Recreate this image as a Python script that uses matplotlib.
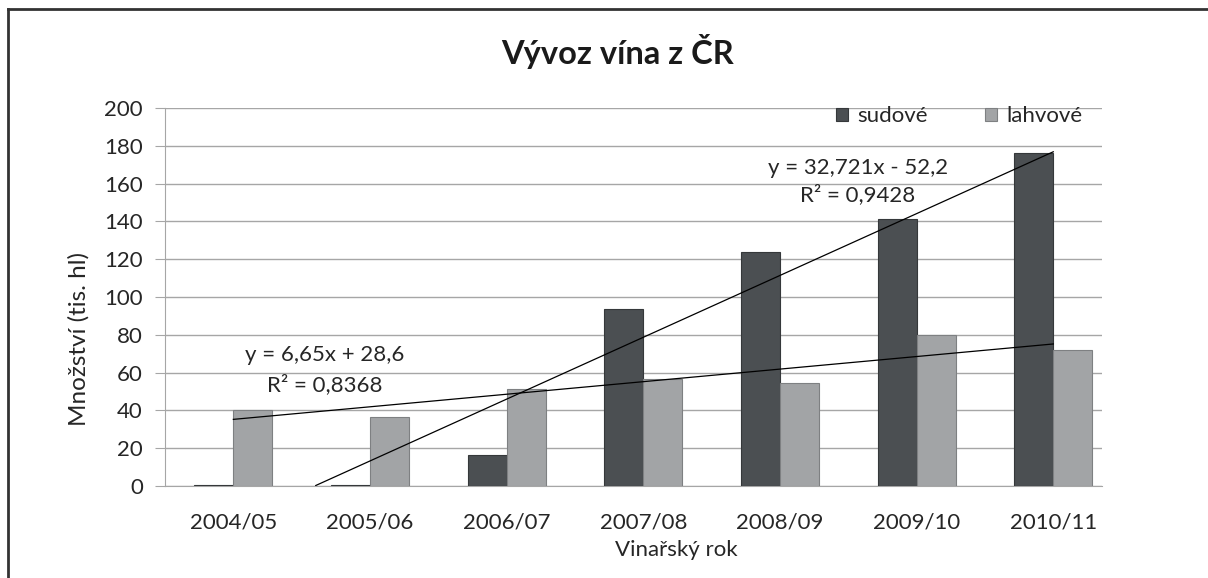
import numpy as np
import matplotlib
matplotlib.use("Agg")
import matplotlib.pyplot as plt
from matplotlib.lines import Line2D

plt.rcParams['font.family'] = ['Lato', 'DejaVu Sans']

# data (tis. hl)
roky = ['2004/05', '2005/06', '2006/07', '2007/08', '2008/09', '2009/10', '2010/11']
sudove = [0.4, 0.3, 16.2, 93.4, 124.0, 141.4, 176.4]
lahvove = [40.0, 36.6, 51.2, 56.8, 54.3, 79.8, 72.0]

# linear trend coefficients as printed in the chart
trend_sud = (32.721, -52.2, 0.9428)
trend_lah = (6.65, 28.6, 0.8368)

dark = '#4b4f52'
light = '#a2a4a6'
grid_c = '#a6a6a6'
txt_c = '#262626'
fs = 16

fig = plt.figure(figsize=(12.08, 5.78), dpi=100)
ax = fig.add_axes([0.1366, 0.1592, 0.9123 - 0.1366, 0.8131 - 0.1592])

x = np.arange(len(roky))
w = 0.285
ax.bar(x - w / 2, sudove, w, color=dark, edgecolor='#35383a', linewidth=0.8,
       label='sudové', zorder=3)
ax.bar(x + w / 2, lahvove, w, color=light, edgecolor='#7e8082', linewidth=0.8,
       label='lahvové', zorder=3)

# trend lines (x in Excel runs 1..n)
xt = np.linspace(1, len(roky), 200)
for k, b, r2 in (trend_sud, trend_lah):
    yt = k * xt + b
    m = yt >= 0
    ax.plot(xt[m] - 1, yt[m], color='black', linewidth=0.9, zorder=4)

ax.text(0.67, 69.5, 'y = 6,65x + 28,6', ha='center', va='center', fontsize=fs, color=txt_c, zorder=5)
ax.text(0.67, 53.5, 'R² = 0,8368', ha='center', va='center', fontsize=fs, color=txt_c, zorder=5)
ax.text(4.57, 168.5, 'y = 32,721x - 52,2', ha='center', va='center', fontsize=fs, color=txt_c, zorder=5)
ax.text(4.57, 154.0, 'R² = 0,9428', ha='center', va='center', fontsize=fs, color=txt_c, zorder=5)

ax.set_xlim(-0.5, 6.357)
ax.set_ylim(0, 200)
ax.set_yticks(np.arange(0, 201, 20))
ax.set_xticks(x)
ax.set_xticklabels(roky)
ax.yaxis.grid(True, color=grid_c, linewidth=1.0, zorder=0)
ax.set_axisbelow(True)
ax.tick_params(axis='y', length=7, color=grid_c, labelsize=fs, labelcolor=txt_c, pad=9)
ax.tick_params(axis='x', length=0, labelsize=fs, labelcolor=txt_c, pad=19)
for s in ('top', 'right'):
    ax.spines[s].set_visible(False)
ax.spines['left'].set_color(grid_c)
ax.spines['bottom'].set_color(grid_c)

ax.set_xlabel('Vinařský rok', fontsize=fs, color=txt_c)
ax.xaxis.set_label_coords(0.546, -0.142)
ax.set_ylabel('Množství (tis. hl)', fontsize=17.5, color=txt_c)
ax.yaxis.set_label_coords(-0.08, 0.39)

leg = ax.legend(loc='upper right', bbox_to_anchor=(0.979, 1.005), ncol=2, frameon=False,
                fontsize=fs, handlelength=0.55, handleheight=0.55, handletextpad=0.4,
                columnspacing=2.6, labelcolor=txt_c, borderpad=0, borderaxespad=0)

fig.text(617.5 / 1208, 1 - 64 / 578, 'Vývoz vína z ČR', ha='center', va='baseline',
         fontsize=23.5, fontweight='bold', color='#1a1a1a')

# outer frame of the original chart (top and left edges visible)
fig.add_artist(Line2D([8 / 1208, 1], [1 - 9 / 578, 1 - 9 / 578], color='#333333', linewidth=2.0))
fig.add_artist(Line2D([8 / 1208, 8 / 1208], [0, 1 - 9 / 578], color='#333333', linewidth=2.0))

fig.savefig('out.png', dpi=100)
